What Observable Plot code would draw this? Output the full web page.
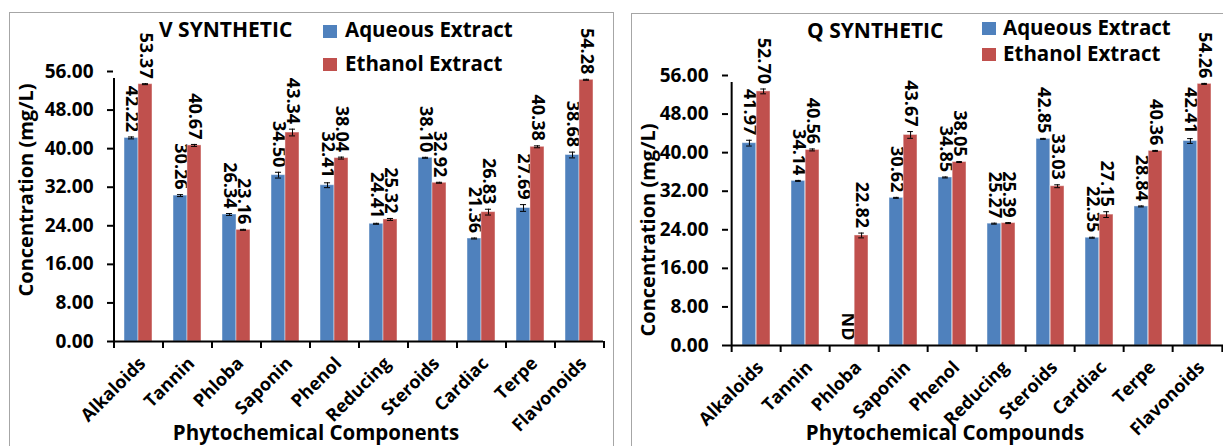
<!DOCTYPE html>
<html>
<head>
<meta charset="utf-8">
<script src="https://cdn.jsdelivr.net/npm/d3@7"></script>
<script src="https://cdn.jsdelivr.net/npm/@observablehq/plot@0.6"></script>
<style>
  html, body { margin: 0; padding: 0; background: #fff; }
  #page { position: relative; width: 1223px; height: 446px; overflow: hidden; }
  .panel { position: absolute; border: 1.5px solid #a6a6a6; box-sizing: border-box; }
  .chart { position: absolute; }
  svg text { font-family: 'Open Sans', sans-serif; font-weight: 700; }
  #overlay { position: absolute; left: 0; top: 0; pointer-events: none; }
</style>
</head>
<body>
<div id="page"></div>
<script>
// Phytochemical components measured in both extracts
const categories = ["Alkaloids", "Tannin", "Phloba", "Saponin", "Phenol", "Reducing", "Steroids", "Cardiac", "Terpe", "Flavonoids"];
const seriesNames = ["Aqueous Extract", "Ethanol Extract"];
const seriesColors = ["#4F81BD", "#C0504D"];
const yTicks = [0, 8, 16, 24, 32, 40, 48, 56];

// V SYNTHETIC (mg/L) with standard errors
const vAqueous = [42.22, 30.26, 26.34, 34.50, 32.41, 24.41, 38.10, 21.36, 27.69, 38.68];
const vEthanol = [53.37, 40.67, 23.16, 43.34, 38.04, 25.32, 32.92, 26.83, 40.38, 54.28];
const vAqueousErr = [0.2, 0.2, 0.2, 0.6, 0.5, 0.1, 0.1, 0.1, 0.7, 0.6];
const vEthanolErr = [0.1, 0.2, 0.1, 0.7, 0.2, 0.2, 0.1, 0.6, 0.2, 0.1];

// Q SYNTHETIC (mg/L); null = not detected
const qAqueous = [41.97, 34.14, null, 30.62, 34.85, 25.27, 42.85, 22.35, 28.84, 42.41];
const qEthanol = [52.70, 40.56, 22.82, 43.67, 38.05, 25.39, 33.03, 27.15, 40.36, 54.26];
const qAqueousErr = [0.6, 0.1, null, 0.1, 0.1, 0.1, 0.1, 0.1, 0.1, 0.5];
const qEthanolErr = [0.5, 0.2, 0.5, 0.7, 0.1, 0.1, 0.3, 0.6, 0.1, 0.1];

const PAD = 0.43;
const fmt = d3.format(".2f");

function rowsFor(values, errs) {
  return categories.map((cat, i) => ({cat, value: values[i], err: errs[i]}));
}

function makeChart(cfg) {
  const {width, height, marginLeft, marginRight, marginTop, marginBottom} = cfg;
  const plotW = width - marginLeft - marginRight;
  const step = plotW / categories.length;
  const bw = step * (1 - PAD);
  const half = bw / 2;
  const capW = 3;
  const series = [rowsFor(cfg.aqueous, cfg.aqueousErr), rowsFor(cfg.ethanol, cfg.ethanolErr)];

  const marks = [];
  series.forEach((rows, s) => {
    const side = s === 0 ? -1 : 1;
    const center = s === 0 ? half / 2 : 1.5 * half;
    const present = rows.filter(d => d.value != null);
    marks.push(
      Plot.barY(present, {
        x: "cat", y: "value", fill: seriesColors[s],
        insetLeft: s === 0 ? 0 : half, insetRight: s === 0 ? half : 0,
        stroke: "#ffffff", strokeOpacity: 0.45, strokeWidth: 1
      }),
      // error bars with caps
      Plot.ruleX(present, {
        x: "cat", y1: d => d.value - d.err, y2: d => d.value + d.err,
        dx: side * half / 2, stroke: "#000", strokeWidth: 1
      }),
      Plot.tickY(present, {
        x: "cat", y: d => d.value + d.err, stroke: "#000", strokeWidth: 1,
        insetLeft: center - capW, insetRight: bw - center - capW
      }),
      Plot.tickY(present, {
        x: "cat", y: d => d.value - d.err, stroke: "#000", strokeWidth: 1,
        insetLeft: center - capW, insetRight: bw - center - capW
      }),
      // value labels (ND where nothing was detected)
      Plot.text(rows, {
        x: "cat",
        y: d => d.value == null ? 0 : d.value + d.err,
        text: d => d.value == null ? "ND" : fmt(d.value),
        rotate: 90, textAnchor: "end", lineAnchor: "middle",
        dx: side * half / 2, dy: -5,
        fontSize: 18, fontWeight: 700, fill: "#000"
      })
    );
  });

  return Plot.plot({
    width, height, marginLeft, marginRight, marginTop, marginBottom,
    style: {fontFamily: "'Open Sans', sans-serif", fontWeight: 700, color: "#000", background: "transparent", overflow: "visible"},
    x: {domain: categories, paddingInner: PAD, paddingOuter: PAD / 2, axis: null},
    y: {domain: [0, 56], axis: null},
    marks: [
      ...marks,
      // x-axis baseline
      Plot.ruleY([0], {stroke: "#000", strokeWidth: 2}),
      // y-axis line (left edge of first category) with its tick below the baseline
      Plot.ruleX([categories[0]], {x: d => d, y1: 0, y2: 56, dx: -step / 2, insetBottom: -7, stroke: "#000", strokeWidth: 2}),
      // category boundary ticks
      Plot.ruleX(categories, {x: d => d, y1: 0, y2: 0, dx: -step / 2, insetBottom: -7, stroke: "#000", strokeWidth: 2}),
      Plot.ruleX([categories[categories.length - 1]], {x: d => d, y1: 0, y2: 0, dx: step / 2, insetBottom: -7, stroke: "#000", strokeWidth: 2}),
      // y ticks and labels
      Plot.tickY(yTicks, {y: d => d, insetLeft: -6, insetRight: plotW, stroke: "#000", strokeWidth: 2}),
      Plot.text(yTicks, {y: d => d, text: d => fmt(d), frameAnchor: "left", textAnchor: "end", lineAnchor: "middle", dx: -20, fontSize: 19, fill: "#000"}),
      // rotated category labels
      Plot.text(categories, {x: d => d, text: d => d, frameAnchor: "bottom", rotate: -45, textAnchor: "end", lineAnchor: "middle", dx: 4, dy: 19, fontSize: 18, fill: "#000"})
    ]
  });
}

const page = document.getElementById("page");

function addPanel(left, top, w, h) {
  const p = document.createElement("div");
  p.className = "panel";
  Object.assign(p.style, {left: left + "px", top: top + "px", width: w + "px", height: h + "px"});
  page.appendChild(p);
}

function addChart(left, top, chart) {
  chart.classList.add("chart");
  chart.style.left = left + "px";
  chart.style.top = top + "px";
  page.appendChild(chart);
}

addPanel(9, 12, 605, 500);
addPanel(631, 13, 700, 500);

addChart(9, 12, makeChart({
  width: 604, height: 440, marginLeft: 104, marginRight: 10, marginTop: 59, marginBottom: 111,
  aqueous: vAqueous, ethanol: vEthanol, aqueousErr: vAqueousErr, ethanolErr: vEthanolErr
}));

addChart(631, 13, makeChart({
  width: 600, height: 440, marginLeft: 97, marginRight: 6, marginTop: 62, marginBottom: 108,
  aqueous: qAqueous, ethanol: qEthanol, aqueousErr: qAqueousErr, ethanolErr: qEthanolErr
}));

// Titles, legends and axis titles
const overlay = d3.create("svg").attr("id", "overlay").attr("width", 1223).attr("height", 446);
const panels = [
  {title: "V SYNTHETIC", titleX: 159, titleY: 37,
   legendX: 323, legendY: [25, 58], legendTextX: 345, legendBase: [37, 71],
   yLabelX: 33, yLabelY: 190, xLabel: "Phytochemical Components", xLabelX: 316, xLabelY: 440},
  {title: "Q SYNTHETIC", titleX: 807, titleY: 38,
   legendX: 982, legendY: [22, 48], legendTextX: 1003, legendBase: [35, 61],
   yLabelX: 655, yLabelY: 230, xLabel: "Phytochemical Compounds", xLabelX: 945, xLabelY: 440}
];
for (const p of panels) {
  overlay.append("text").attr("x", p.titleX).attr("y", p.titleY)
    .attr("font-size", 21).text(p.title);
  seriesNames.forEach((name, i) => {
    overlay.append("rect").attr("x", p.legendX).attr("y", p.legendY[i])
      .attr("width", 14).attr("height", 13).attr("fill", seriesColors[i]);
    overlay.append("text").attr("x", p.legendTextX).attr("y", p.legendBase[i])
      .attr("font-size", 20.5).text(name);
  });
  overlay.append("text")
    .attr("transform", `translate(${p.yLabelX},${p.yLabelY}) rotate(-90)`)
    .attr("text-anchor", "middle").attr("font-size", 20).text("Concentration (mg/L)");
  overlay.append("text").attr("x", p.xLabelX).attr("y", p.xLabelY)
    .attr("text-anchor", "middle").attr("font-size", 20.5).text(p.xLabel);
}
page.appendChild(overlay.node());
</script>
</body>
</html>
